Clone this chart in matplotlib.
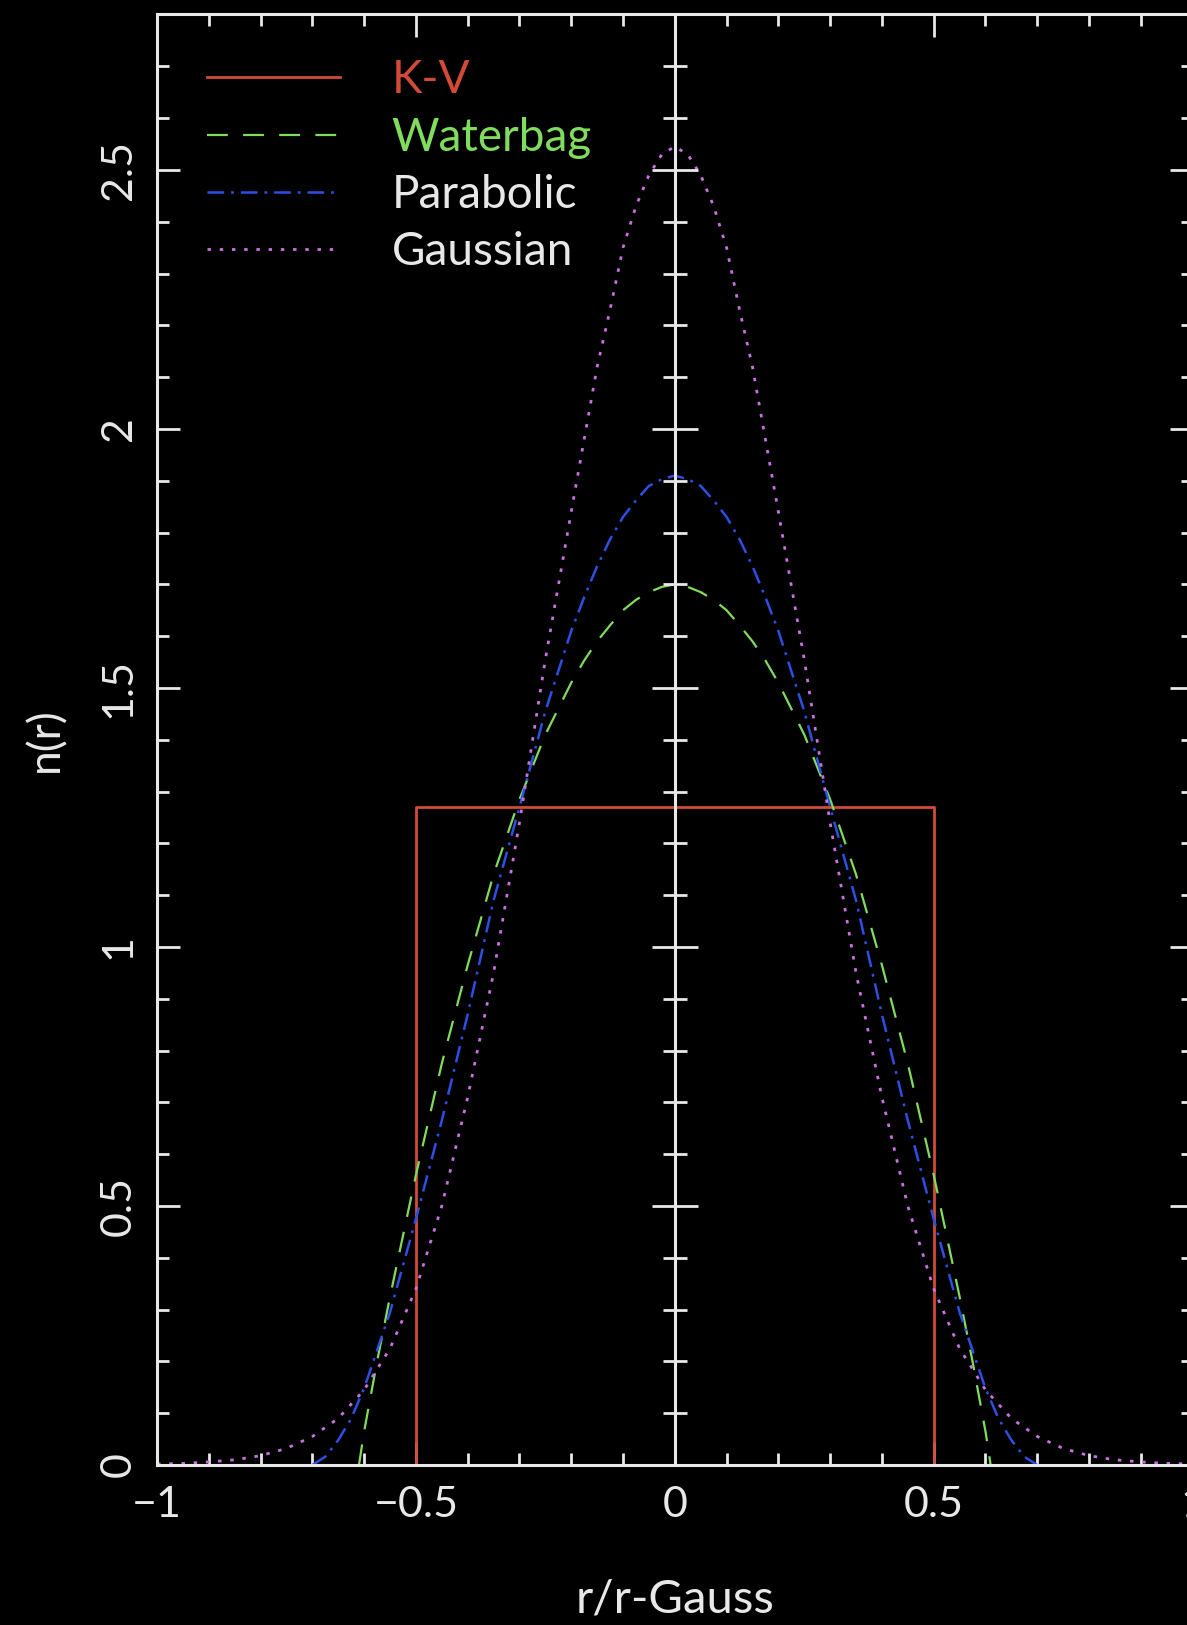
import matplotlib
matplotlib.use('Agg')
import matplotlib.pyplot as plt
from matplotlib.ticker import MultipleLocator

# values
kv_r = [-0.5, -0.5, 0.5, 0.5]
kv_n = [0.0, 1.27, 1.27, 0.0]

wb_r = [-0.61, -0.6, -0.575, -0.55, -0.5, -0.45, -0.4, -0.35, -0.3, -0.25, -0.2, -0.175, -0.15, -0.125, -0.1,
        -0.075, -0.05, -0.025, 0.0, 0.025, 0.05, 0.075, 0.1, 0.125, 0.15, 0.175, 0.2, 0.25, 0.3, 0.35, 0.4,
        0.45, 0.5, 0.55, 0.575, 0.6, 0.61]
wb_n = [0.0, 0.065, 0.20, 0.325, 0.56, 0.775, 0.965, 1.14, 1.285, 1.41, 1.51, 1.553, 1.59, 1.621, 1.65,
        1.67, 1.685, 1.695, 1.70, 1.695, 1.685, 1.67, 1.65, 1.621, 1.59, 1.553, 1.51, 1.41, 1.285, 1.14, 0.965,
        0.775, 0.56, 0.325, 0.20, 0.065, 0.0]

pa_r = [-0.7, -0.675, -0.65, -0.625, -0.6, -0.55, -0.5, -0.45, -0.4, -0.35, -0.3, -0.25, -0.2, -0.175, -0.15,
        -0.125, -0.1, -0.075, -0.05, -0.025, 0.0, 0.025, 0.05, 0.075, 0.1, 0.125, 0.15, 0.175, 0.2, 0.25, 0.3,
        0.35, 0.4, 0.45, 0.5, 0.55, 0.6, 0.625, 0.65, 0.675, 0.7]
pa_n = [0.0, 0.016, 0.048, 0.09, 0.148, 0.295, 0.475, 0.665, 0.87, 1.09, 1.27, 1.455, 1.61, 1.675, 1.735,
        1.787, 1.83, 1.862, 1.89, 1.903, 1.91, 1.903, 1.89, 1.862, 1.83, 1.787, 1.735, 1.675, 1.61, 1.455, 1.27,
        1.09, 0.87, 0.665, 0.475, 0.295, 0.148, 0.09, 0.048, 0.016, 0.0]

ga_r = [-1.0, -0.95, -0.9, -0.85, -0.8, -0.75, -0.7, -0.65, -0.6, -0.55, -0.5, -0.45, -0.4, -0.35, -0.3, -0.25,
        -0.2, -0.175, -0.15, -0.125, -0.1, -0.075, -0.05, -0.025,
        0.0, 0.025, 0.05, 0.075, 0.1, 0.125, 0.15, 0.175, 0.2,
        0.25, 0.3, 0.35, 0.4, 0.45, 0.5, 0.55, 0.6, 0.65, 0.7, 0.75, 0.8, 0.85, 0.9, 0.95, 1.0]
ga_n = [0.002, 0.003, 0.006, 0.01, 0.018, 0.032, 0.055, 0.09, 0.145, 0.225, 0.34, 0.50, 0.71, 0.95, 1.24, 1.555,
        1.84, 1.98, 2.12, 2.23, 2.35, 2.43, 2.49, 2.53,
        2.545, 2.53, 2.49, 2.43, 2.35, 2.23, 2.12, 1.98, 1.84,
        1.555, 1.24, 0.95, 0.71, 0.50, 0.34, 0.225, 0.145, 0.09, 0.055, 0.032, 0.018, 0.01, 0.006, 0.003, 0.002]

labels = ['K-V', 'Waterbag', 'Parabolic', 'Gaussian']
colors = ['#d24a38', '#80dc5c', '#2c4fe4', '#c872e0']
text_colors = ['#d24a38', '#80dc5c', '#e8e8e8', '#e8e8e8']

plt.rcParams['font.family'] = ['Lato', 'DejaVu Sans']
plt.rcParams['font.weight'] = 'normal'
plt.rcParams['font.size'] = 31
plt.rcParams['lines.scale_dashes'] = False

fg = '#e8e8e8'
fig = plt.figure(figsize=(11.87, 16.25), dpi=100, facecolor='black')
pos = [0.1323, 0.09846, 0.8724, 0.89262]
ax = fig.add_axes(pos, facecolor='black')

ax.plot(kv_r, kv_n, '-', color=colors[0], lw=2.0, label=labels[0])
ax.plot(wb_r, wb_n, color=colors[1], lw=1.6, ls=(0, (15, 11)), label=labels[1])
ax.plot(pa_r, pa_n, color=colors[2], lw=1.8, ls=(0, (12, 5, 2, 5)), label=labels[2])
ax.plot(ga_r, ga_n, color=colors[3], lw=2.0, ls=(0, (2.5, 6.3)), label=labels[3])

ax.set_xlim(-1, 1)
ax.set_ylim(0, 2.8)
for a in (ax.xaxis, ax.yaxis):
    a.set_major_locator(MultipleLocator(0.5))
    a.set_minor_locator(MultipleLocator(0.1))
ax.xaxis.set_major_formatter(plt.FuncFormatter(lambda v, p: '%g' % v if v >= 0 else '\u2212%g' % -v))
ax.yaxis.set_major_formatter(plt.FuncFormatter(lambda v, p: '%g' % v))

ax.tick_params(which='both', direction='in', top=True, right=True, color=fg, width=2.0,
               labelcolor=fg, labelsize=31)
ax.tick_params(which='major', length=16.5)
ax.tick_params(which='minor', length=8.5)
ax.tick_params(axis='x', pad=15)
ax.tick_params(axis='y', pad=14, labelrotation=90)
for lab in ax.get_yticklabels():
    lab.set_verticalalignment('center')
for s in ax.spines.values():
    s.set_color(fg)
    s.set_linewidth(2.2)

ax.set_xlabel('r/r-Gauss', color=fg, fontsize=34)
ax.set_ylabel('n(r)', color=fg, fontsize=32)
ax.xaxis.set_label_coords(0.5, -0.078)
ax.yaxis.set_label_coords(-0.088, 0.5)

# zero line with ticks crossing it
ax0 = fig.add_axes(pos, facecolor='none', sharey=ax)
ax0.set_xlim(-1, 1)
for k in ['right', 'top', 'bottom']:
    ax0.spines[k].set_visible(False)
ax0.spines['left'].set_position(('data', 0))
ax0.spines['left'].set_color(fg)
ax0.spines['left'].set_linewidth(2.2)
ax0.tick_params(axis='y', which='both', direction='inout', color=fg, width=2.0, labelleft=False)
ax0.tick_params(axis='y', which='major', length=33)
ax0.tick_params(axis='y', which='minor', length=17)
ax0.tick_params(axis='x', bottom=False, labelbottom=False)

leg = ax.legend(loc='upper left', bbox_to_anchor=(0.0483, 0.969), frameon=False,
                borderpad=0, borderaxespad=0, handlelength=2.9, handletextpad=1.13,
                labelspacing=0.33, fontsize=33)
for t, c in zip(leg.get_texts(), text_colors):
    t.set_color(c)

fig.savefig('out.png', dpi=100, facecolor='black')
